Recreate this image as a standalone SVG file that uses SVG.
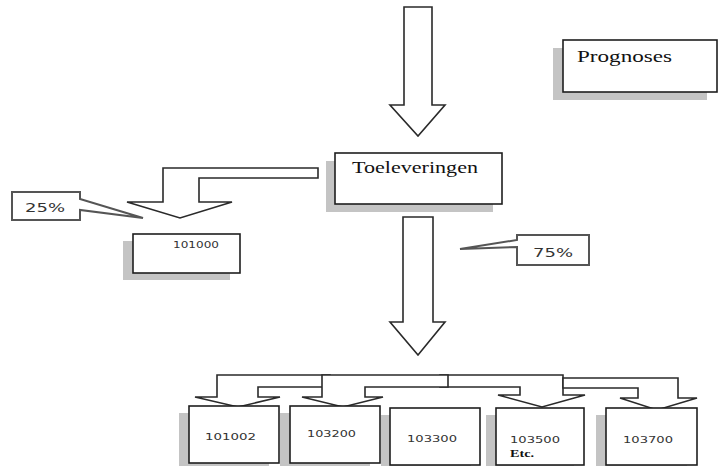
<svg xmlns="http://www.w3.org/2000/svg" width="720" height="466" viewBox="0 0 720 466">
  <style>
    .shadow { fill: #c4c4c4; }
    .box { fill: #ffffff; stroke: #1e1e1e; stroke-width: 1.6; }
    .arrow { fill: #ffffff; stroke: #2a2a2a; stroke-width: 1.6; stroke-linejoin: miter; }
    .callout { fill: #ffffff; stroke: #555555; stroke-width: 2; }
    .serif { font-family: "Liberation Serif", "Times New Roman", serif; fill: #111; }
    .sans { font-family: "DejaVu Sans", Verdana, sans-serif; fill: #333; }
  </style>

  <rect width="720" height="466" fill="#ffffff"/>

  <!-- connectors: block arrows -->
  <g id="connectors">
    <!-- incoming arrow at top -->
    <polygon class="arrow" points="404,7 432,7 432,105 445,105 418,136 390,105 404,105"/>
    <!-- bent arrow to 101000 (25%) -->
    <polygon class="arrow" points="318,168 163,168 163,202 127,202 180,218 232,202 199,202 199,178 318,178"/>
    <!-- main arrow down (75%) -->
    <polygon class="arrow" points="403,217 433,217 433,322 445,322 418,355 390,322 403,322"/>
    <!-- distribution arrows -->
    <polygon class="arrow" points="440,375 563,375 563,395 585,395 542,407 498,395 520,395 520,387 440,387"/>
    <polygon class="arrow" points="330,375 217,375 217,397 195,397 238,407 280,397 258,397 258,387 330,387"/>
    <polygon class="arrow" points="448,375 322,375 322,397 302,397 343,407 383,397 365,397 365,387 448,387"/>
    <polygon class="arrow" points="563,378 678,378 678,398 697,398 657,410 620,398 638,398 638,388 563,388"/>
  </g>

  <g id="prognoses">
    <rect class="shadow" x="553" y="48" width="154" height="52"/>
    <rect class="box" x="563" y="40" width="154" height="52"/>
    <text class="serif" x="577" y="62" font-size="17" textLength="95" lengthAdjust="spacingAndGlyphs">Prognoses</text>
  </g>

  <g id="toeleveringen">
    <rect class="shadow" x="326" y="161" width="167" height="51"/>
    <rect class="box" x="335" y="153" width="167" height="51"/>
    <text class="serif" x="352" y="173" font-size="17" textLength="126" lengthAdjust="spacingAndGlyphs">Toeleveringen</text>
  </g>

  <g id="label-25">
    <polygon class="callout" points="12,192 80,192 80,199 143,218 80,210 80,220 12,220"/>
    <text class="sans" x="25" y="212" font-size="13" textLength="40" lengthAdjust="spacingAndGlyphs">25%</text>
  </g>

  <g id="label-75">
    <polygon class="callout" points="517,235 589,235 589,265 517,265 517,247 460,249 517,240"/>
    <text class="sans" x="533" y="257" font-size="13" textLength="40" lengthAdjust="spacingAndGlyphs">75%</text>
  </g>

  <g id="node-101000">
    <rect class="shadow" x="123" y="241" width="107" height="39"/>
    <rect class="box" x="133" y="234" width="107" height="39"/>
    <text class="sans" x="173" y="248" font-size="9" textLength="46" lengthAdjust="spacingAndGlyphs">101000</text>
  </g>

  <g id="node-101002">
    <rect class="shadow" x="179" y="413" width="90" height="57"/>
    <rect class="box" x="189" y="406" width="90" height="57"/>
    <text class="sans" x="205" y="440" font-size="9" textLength="51" lengthAdjust="spacingAndGlyphs">101002</text>
  </g>

  <g id="node-103200">
    <rect class="shadow" x="280" y="413" width="90" height="57"/>
    <rect class="box" x="290" y="406" width="90" height="57"/>
    <text class="sans" x="307" y="437" font-size="9" textLength="49" lengthAdjust="spacingAndGlyphs">103200</text>
  </g>

  <g id="node-103300">
    <rect class="shadow" x="381" y="415" width="90" height="57"/>
    <rect class="box" x="390" y="408" width="90" height="57"/>
    <text class="sans" x="407" y="442" font-size="9" textLength="50" lengthAdjust="spacingAndGlyphs">103300</text>
  </g>

  <g id="node-103500">
    <rect class="shadow" x="486" y="415" width="88" height="57"/>
    <rect class="box" x="496" y="408" width="88" height="57"/>
    <text class="sans" x="510" y="443" font-size="9" textLength="50" lengthAdjust="spacingAndGlyphs">103500</text>
    <text class="serif" x="510" y="457" font-size="10" font-weight="bold" textLength="24" lengthAdjust="spacingAndGlyphs">Etc.</text>
  </g>

  <g id="node-103700">
    <rect class="shadow" x="596" y="415" width="91" height="57"/>
    <rect class="box" x="606" y="408" width="91" height="57"/>
    <text class="sans" x="623" y="443" font-size="9" textLength="50" lengthAdjust="spacingAndGlyphs">103700</text>
  </g>
</svg>
